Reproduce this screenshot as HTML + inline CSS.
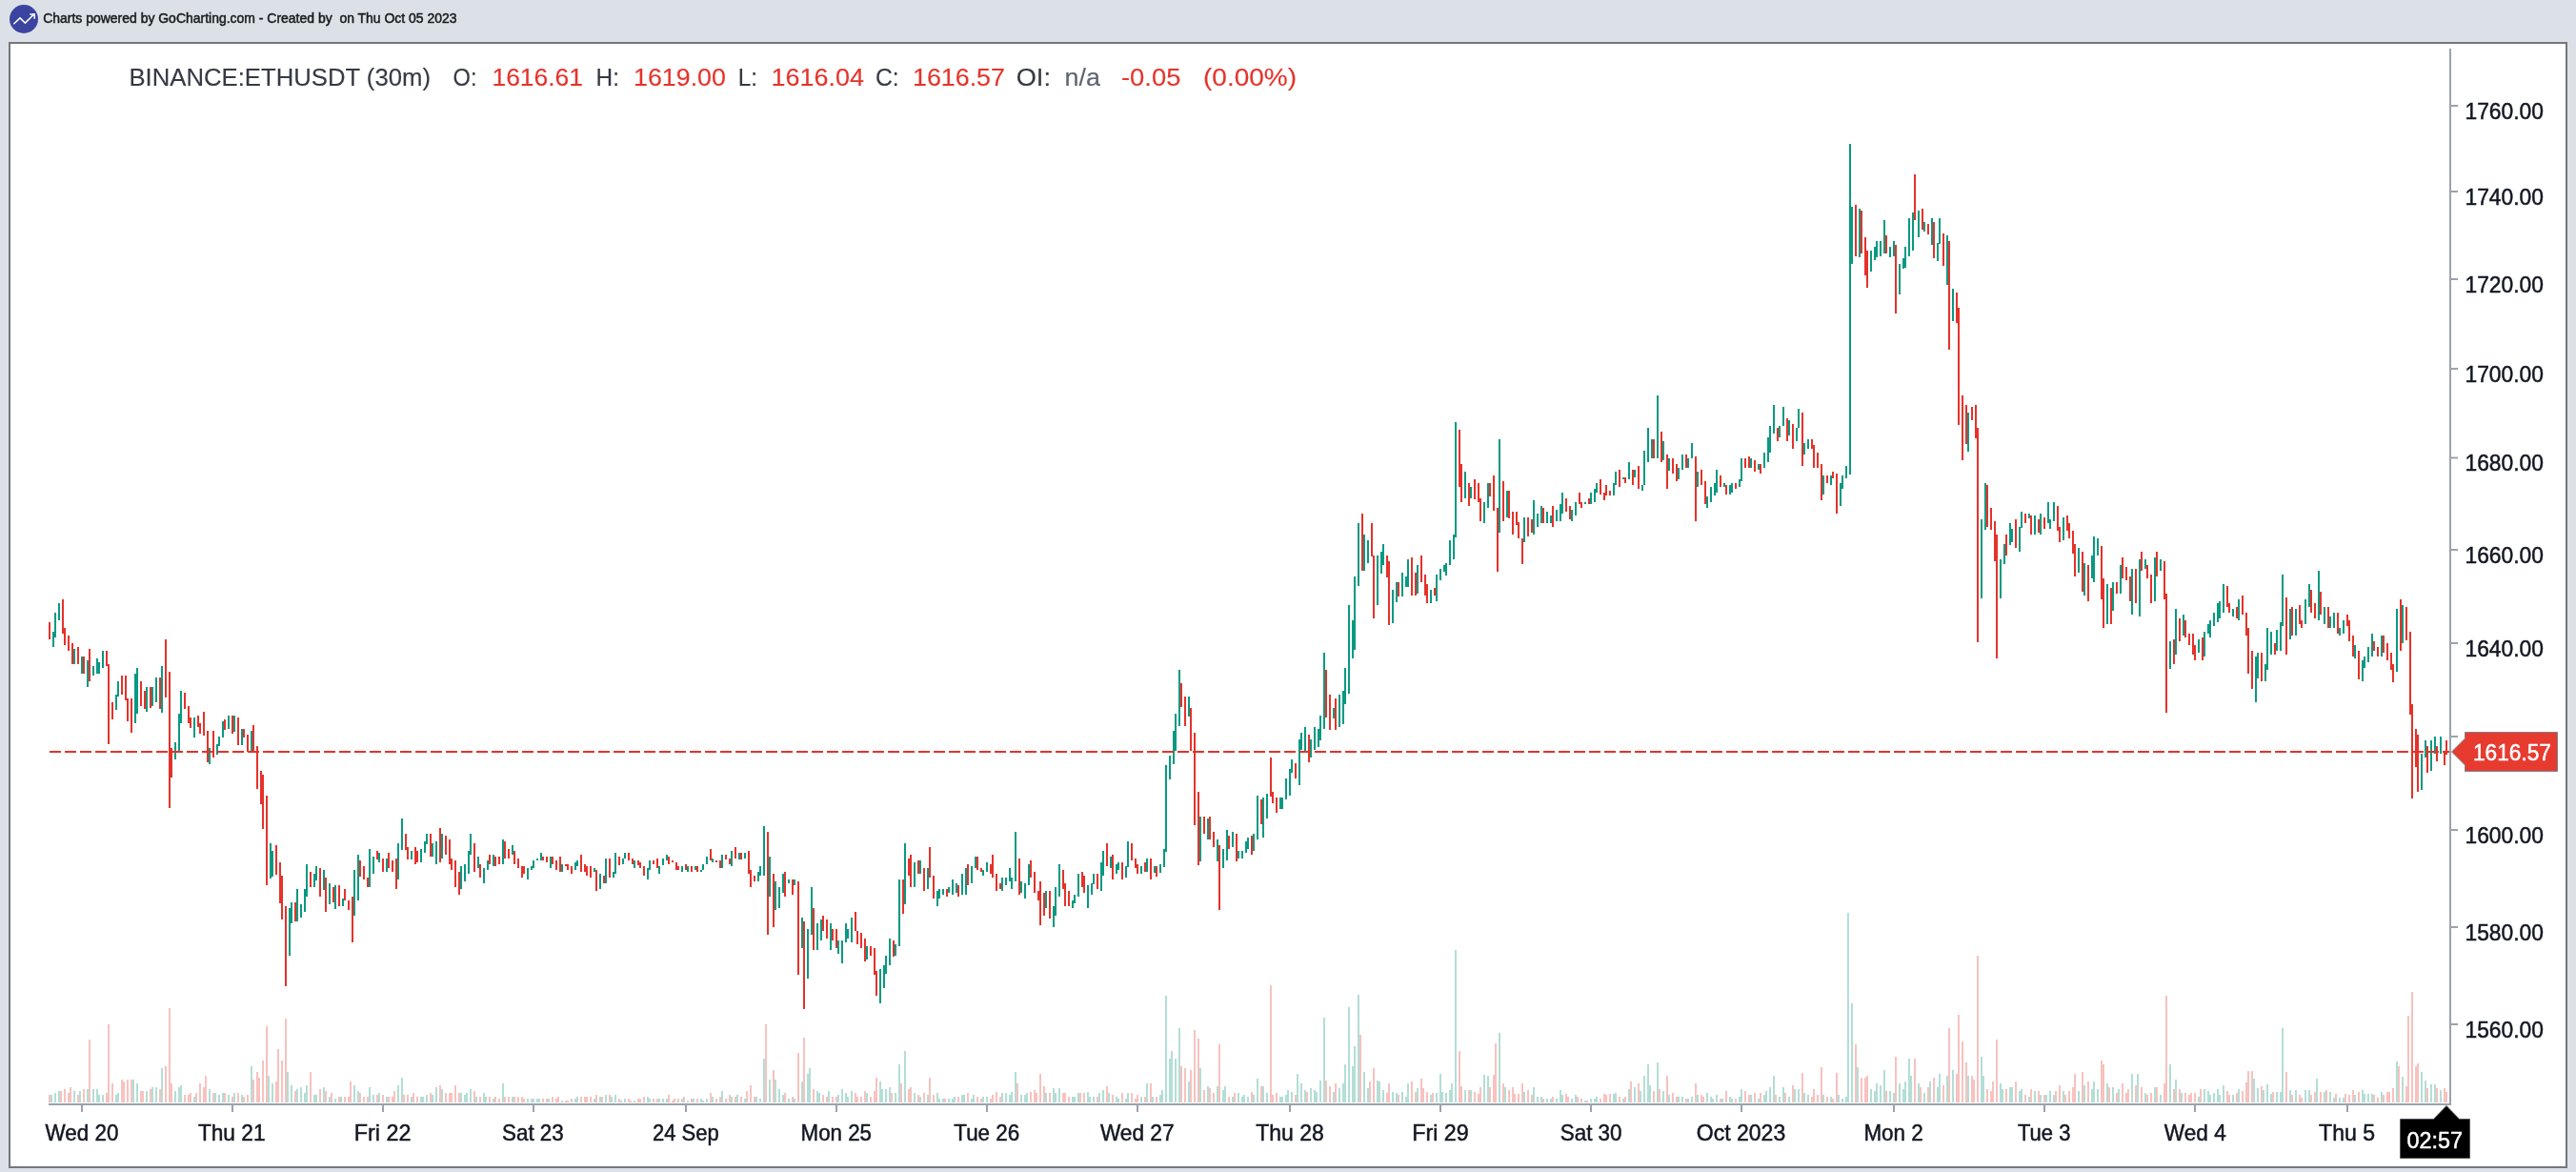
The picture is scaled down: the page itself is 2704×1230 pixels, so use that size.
<!DOCTYPE html>
<html><head><meta charset="utf-8"><title>GoCharting ETHUSDT</title>
<style>
html,body{margin:0;padding:0;}
body{width:2704px;height:1230px;background:#dce1e8;position:relative;overflow:hidden;font-family:"Liberation Sans",sans-serif;}
#logo{position:absolute;left:10px;top:5px;width:30px;height:30px;border-radius:50%;background:#3b45a0;}
#hdr{position:absolute;left:45px;top:8px;font-size:13.6px;color:#1a1a1a;white-space:pre;line-height:18px;}
#panel{position:absolute;left:9px;top:44px;width:2682px;height:1178px;border:2px solid #72777f;background:#fff;}
#legend{position:absolute;left:135px;top:69px;font-size:25px;color:#2f333d;white-space:pre;line-height:28px;}
#legend .v{color:#e5281f;}
#legend .g{color:#5c6370;}
.ax{font-family:"Liberation Sans",sans-serif;font-size:23.5px;fill:#131722;}
</style></head><body>
<div id="logo"><svg width="30" height="30" viewBox="0 0 30 30"><path d="M4.3 20.3L11 13.9L16.4 19.1L25.6 10" stroke="#fff" stroke-width="1.5" fill="none"/><path d="M21.3 9.9H26.2V14.8" stroke="#fff" stroke-width="1.5" fill="none"/><path d="M23.5 9.5H26.6V12.6Z" fill="#fff"/></svg></div>
<div id="panel"></div>
<svg width="2704" height="1230" viewBox="0 0 2704 1230" style="position:absolute;left:0;top:0;will-change:transform" font-family="Liberation Sans, sans-serif"><path d="M54 1149V1157M58 1147V1157M62 1145V1157M78 1145V1157M84 1145V1157M92 1143V1157M98 1143V1157M102 1143V1157M104 1149V1157M108 1149V1157M122 1149V1157M124 1147V1157M140 1133V1157M144 1137V1157M154 1145V1157M160 1141V1157M164 1141V1157M170 1121V1157M184 1145V1157M188 1141V1157M190 1139V1157M204 1151V1157M220 1143V1157M226 1147V1157M230 1149V1157M234 1147V1157M240 1149V1157M246 1147V1157M254 1149V1157M264 1119V1157M282 1129V1157M286 1137V1157M302 1125V1157M306 1139V1157M312 1143V1157M316 1141V1157M320 1147V1157M322 1139V1157M330 1149V1157M332 1149V1157M340 1141V1157M346 1151V1157M352 1153V1157M358 1151V1157M372 1139V1157M376 1145V1157M388 1141V1157M392 1149V1157M398 1147V1157M406 1151V1157M418 1139V1157M422 1131V1157M432 1151V1157M442 1151V1157M444 1151V1157M448 1149V1157M454 1149V1157M458 1141V1157M464 1143V1157M484 1147V1157M488 1149V1157M490 1147V1157M494 1143V1157M500 1151V1157M508 1147V1157M510 1151V1157M518 1153V1157M528 1137V1157M538 1151V1157M554 1153V1157M558 1153V1157M560 1153V1157M564 1153V1157M566 1153V1157M576 1153V1157M590 1155V1157M604 1153V1157M606 1151V1157M624 1153V1157M630 1151V1157M636 1149V1157M642 1151V1157M646 1149V1157M652 1155V1157M656 1153V1157M666 1155V1157M680 1151V1157M682 1153V1157M692 1153V1157M696 1153V1157M700 1153V1157M716 1153V1157M722 1155V1157M728 1153V1157M736 1153V1157M738 1155V1157M742 1153V1157M748 1151V1157M758 1145V1157M768 1151V1157M774 1149V1157M782 1153V1157M794 1151V1157M798 1153V1157M802 1111V1157M808 1133V1157M814 1133V1157M818 1143V1157M822 1149V1157M828 1153V1157M834 1153V1157M842 1135V1157M848 1127V1157M850 1121V1157M858 1145V1157M860 1147V1157M870 1145V1157M880 1149V1157M884 1143V1157M888 1147V1157M890 1151V1157M894 1145V1157M910 1147V1157M924 1135V1157M926 1143V1157M930 1143V1157M934 1141V1157M940 1147V1157M944 1117V1157M950 1103V1157M960 1147V1157M966 1151V1157M974 1149V1157M984 1147V1157M986 1153V1157M990 1153V1157M996 1153V1157M1000 1153V1157M1002 1151V1157M1010 1149V1157M1012 1149V1157M1020 1153V1157M1022 1149V1157M1032 1151V1157M1036 1151V1157M1052 1147V1157M1056 1147V1157M1060 1149V1157M1062 1146V1157M1066 1125V1157M1072 1149V1157M1076 1149V1157M1078 1147V1157M1098 1147V1157M1106 1142V1157M1108 1147V1157M1112 1142V1157M1126 1151V1157M1128 1151V1157M1132 1147V1157M1142 1146V1157M1144 1151V1157M1148 1151V1157M1154 1147V1157M1158 1144V1157M1164 1147V1157M1172 1151V1157M1174 1153V1157M1182 1153V1157M1184 1147V1157M1198 1151V1157M1204 1137V1157M1210 1151V1157M1218 1149V1157M1220 1144V1157M1224 1045V1157M1228 1111V1157M1230 1103V1157M1234 1111V1157M1238 1079V1157M1248 1135V1157M1260 1121V1157M1268 1140V1157M1278 1140V1157M1284 1144V1157M1286 1140V1157M1294 1151V1157M1300 1147V1157M1304 1151V1157M1306 1149V1157M1310 1151V1157M1316 1149V1157M1320 1132V1157M1326 1140V1157M1330 1147V1157M1344 1151V1157M1346 1151V1157M1350 1149V1157M1352 1144V1157M1356 1146V1157M1362 1127V1157M1366 1137V1157M1370 1144V1157M1376 1142V1157M1380 1144V1157M1382 1146V1157M1386 1134V1157M1390 1068V1157M1400 1146V1157M1406 1142V1157M1410 1137V1157M1412 1117V1157M1416 1057V1157M1420 1119V1157M1422 1098V1157M1426 1044V1157M1432 1125V1157M1436 1142V1157M1446 1134V1157M1448 1135V1157M1452 1144V1157M1462 1146V1157M1466 1147V1157M1472 1146V1157M1476 1151V1157M1478 1137V1157M1488 1142V1157M1502 1149V1157M1508 1147V1157M1512 1127V1157M1514 1146V1157M1518 1147V1157M1522 1144V1157M1524 1137V1157M1528 997V1157M1538 1144V1157M1544 1144V1157M1558 1128V1157M1562 1129V1157M1574 1084V1157M1580 1141V1157M1600 1146V1157M1610 1141V1157M1614 1151V1157M1618 1151V1157M1624 1153V1157M1628 1153V1157M1634 1153V1157M1638 1144V1157M1640 1149V1157M1650 1153V1157M1654 1149V1157M1664 1155V1157M1670 1153V1157M1674 1153V1157M1676 1151V1157M1694 1148V1157M1696 1147V1157M1704 1153V1157M1710 1143V1157M1716 1141V1157M1722 1145V1157M1726 1129V1157M1730 1117V1157M1732 1139V1157M1740 1115V1157M1746 1145V1157M1752 1149V1157M1762 1151V1157M1766 1151V1157M1772 1153V1157M1776 1151V1157M1782 1149V1157M1792 1147V1157M1796 1151V1157M1798 1153V1157M1802 1149V1157M1808 1153V1157M1816 1151V1157M1818 1153V1157M1826 1151V1157M1828 1143V1157M1838 1149V1157M1846 1153V1157M1852 1149V1157M1854 1145V1157M1858 1141V1157M1862 1129V1157M1868 1151V1157M1872 1141V1157M1878 1151V1157M1884 1143V1157M1888 1143V1157M1894 1147V1157M1898 1149V1157M1914 1149V1157M1922 1151V1157M1930 1149V1157M1934 1153V1157M1938 1151V1157M1940 958V1157M1944 1053V1157M1950 1120V1157M1964 1143V1157M1968 1145V1157M1970 1137V1157M1974 1139V1157M1978 1123V1157M1984 1145V1157M1988 1147V1157M1994 1137V1157M1998 1143V1157M2000 1135V1157M2004 1111V1157M2006 1129V1157M2014 1137V1157M2020 1147V1157M2026 1135V1157M2034 1141V1157M2036 1127V1157M2044 1129V1157M2050 1123V1157M2066 1129V1157M2080 1109V1157M2082 1129V1157M2100 1137V1157M2102 1143V1157M2110 1141V1157M2112 1141V1157M2120 1145V1157M2122 1143V1157M2130 1151V1157M2136 1145V1157M2142 1149V1157M2148 1149V1157M2152 1145V1157M2156 1149V1157M2166 1145V1157M2182 1145V1157M2188 1139V1157M2196 1143V1157M2198 1135V1157M2202 1143V1157M2212 1137V1157M2218 1141V1157M2224 1143V1157M2238 1127V1157M2244 1127V1157M2252 1147V1157M2262 1141V1157M2268 1149V1157M2278 1117V1157M2284 1133V1157M2290 1147V1157M2308 1151V1157M2314 1143V1157M2318 1145V1157M2320 1149V1157M2324 1147V1157M2328 1143V1157M2330 1149V1157M2334 1139V1157M2344 1149V1157M2350 1143V1157M2366 1132V1157M2370 1142V1157M2376 1144V1157M2380 1138V1157M2384 1148V1157M2390 1146V1157M2394 1146V1157M2396 1079V1157M2404 1144V1157M2410 1144V1157M2420 1144V1157M2424 1144V1157M2432 1132V1157M2440 1146V1157M2446 1146V1157M2450 1152V1157M2456 1152V1157M2460 1152V1157M2472 1149V1157M2480 1144V1157M2482 1148V1157M2486 1148V1157M2490 1148V1157M2500 1146V1157M2516 1114V1157M2522 1130V1157M2542 1125V1157M2546 1134V1157M2552 1138V1157M2556 1138V1157M2562 1144V1157" stroke="#b3ded6" stroke-width="2" fill="none"/><path d="M52 1149V1157M64 1145V1157M68 1143V1157M72 1147V1157M74 1141V1157M82 1149V1157M88 1143V1157M94 1091V1157M112 1147V1157M114 1075V1157M118 1137V1157M128 1133V1157M130 1135V1157M134 1133V1157M138 1133V1157M148 1145V1157M150 1145V1157M158 1143V1157M168 1143V1157M174 1119V1157M178 1058V1157M180 1137V1157M194 1149V1157M198 1149V1157M200 1147V1157M206 1147V1157M210 1137V1157M214 1141V1157M216 1129V1157M224 1147V1157M236 1147V1157M244 1151V1157M250 1147V1157M256 1151V1157M260 1149V1157M266 1133V1157M270 1125V1157M272 1131V1157M276 1113V1157M280 1077V1157M290 1135V1157M292 1101V1157M296 1113V1157M300 1069V1157M310 1145V1157M326 1125V1157M336 1143V1157M342 1145V1157M348 1147V1157M356 1151V1157M362 1151V1157M366 1151V1157M368 1135V1157M378 1147V1157M382 1151V1157M386 1151V1157M396 1149V1157M402 1149V1157M408 1151V1157M412 1151V1157M414 1145V1157M424 1149V1157M428 1149V1157M434 1147V1157M438 1151V1157M452 1147V1157M462 1139V1157M468 1147V1157M472 1147V1157M474 1147V1157M478 1139V1157M482 1147V1157M498 1145V1157M504 1151V1157M514 1151V1157M520 1151V1157M524 1153V1157M530 1151V1157M534 1151V1157M540 1151V1157M544 1151V1157M548 1151V1157M550 1153V1157M570 1153V1157M574 1153V1157M580 1151V1157M584 1153V1157M586 1151V1157M594 1155V1157M596 1155V1157M600 1153V1157M610 1151V1157M614 1151V1157M616 1151V1157M620 1151V1157M626 1149V1157M632 1151V1157M640 1149V1157M650 1153V1157M660 1153V1157M662 1155V1157M670 1153V1157M672 1153V1157M676 1151V1157M686 1153V1157M690 1153V1157M702 1149V1157M706 1155V1157M708 1153V1157M712 1153V1157M718 1151V1157M726 1153V1157M732 1153V1157M746 1147V1157M752 1153V1157M756 1151V1157M762 1153V1157M766 1149V1157M772 1151V1157M778 1151V1157M784 1145V1157M788 1139V1157M792 1151V1157M804 1075V1157M812 1123V1157M824 1147V1157M832 1151V1157M838 1105V1157M844 1089V1157M854 1143V1157M864 1149V1157M868 1151V1157M874 1151V1157M878 1151V1157M898 1147V1157M900 1151V1157M904 1151V1157M908 1145V1157M914 1151V1157M918 1145V1157M920 1131V1157M936 1147V1157M946 1137V1157M954 1143V1157M956 1141V1157M964 1149V1157M970 1147V1157M976 1131V1157M980 1149V1157M992 1153V1157M1006 1151V1157M1016 1147V1157M1026 1151V1157M1030 1153V1157M1040 1153V1157M1042 1149V1157M1046 1146V1157M1050 1151V1157M1068 1137V1157M1082 1146V1157M1086 1144V1157M1088 1147V1157M1092 1127V1157M1096 1140V1157M1102 1147V1157M1116 1147V1157M1118 1147V1157M1122 1151V1157M1134 1147V1157M1138 1147V1157M1152 1151V1157M1162 1140V1157M1168 1149V1157M1178 1147V1157M1188 1147V1157M1192 1153V1157M1194 1149V1157M1202 1151V1157M1208 1137V1157M1214 1151V1157M1240 1119V1157M1244 1121V1157M1250 1123V1157M1254 1081V1157M1258 1090V1157M1264 1144V1157M1270 1142V1157M1274 1147V1157M1280 1096V1157M1290 1151V1157M1296 1147V1157M1314 1146V1157M1324 1140V1157M1334 1034V1157M1336 1149V1157M1340 1147V1157M1360 1149V1157M1372 1146V1157M1392 1134V1157M1396 1140V1157M1402 1137V1157M1428 1086V1157M1438 1135V1157M1442 1121V1157M1456 1147V1157M1458 1137V1157M1468 1149V1157M1482 1135V1157M1486 1146V1157M1492 1132V1157M1494 1142V1157M1498 1146V1157M1504 1147V1157M1532 1103V1157M1534 1140V1157M1542 1144V1157M1548 1146V1157M1552 1148V1157M1554 1141V1157M1564 1141V1157M1568 1128V1157M1570 1095V1157M1578 1137V1157M1584 1144V1157M1588 1141V1157M1590 1148V1157M1594 1148V1157M1598 1137V1157M1604 1144V1157M1608 1149V1157M1620 1153V1157M1630 1151V1157M1644 1148V1157M1646 1151V1157M1656 1151V1157M1660 1153V1157M1666 1155V1157M1680 1153V1157M1684 1148V1157M1686 1149V1157M1690 1148V1157M1700 1151V1157M1706 1151V1157M1712 1135V1157M1720 1137V1157M1736 1145V1157M1742 1143V1157M1750 1129V1157M1756 1147V1157M1760 1151V1157M1770 1153V1157M1780 1137V1157M1786 1149V1157M1788 1151V1157M1806 1153V1157M1812 1145V1157M1822 1153V1157M1832 1145V1157M1836 1149V1157M1842 1147V1157M1848 1147V1157M1864 1149V1157M1874 1147V1157M1882 1139V1157M1892 1126V1157M1902 1151V1157M1904 1143V1157M1908 1149V1157M1912 1120V1157M1918 1151V1157M1924 1153V1157M1928 1126V1157M1948 1096V1157M1954 1131V1157M1958 1131V1157M1960 1129V1157M1980 1145V1157M1990 1109V1157M2010 1111V1157M2016 1141V1157M2024 1141V1157M2030 1131V1157M2040 1139V1157M2046 1079V1157M2054 1127V1157M2056 1065V1157M2060 1093V1157M2064 1115V1157M2070 1129V1157M2072 1133V1157M2076 1003V1157M2086 1143V1157M2090 1145V1157M2092 1135V1157M2096 1091V1157M2106 1143V1157M2116 1135V1157M2126 1149V1157M2132 1143V1157M2140 1145V1157M2146 1149V1157M2158 1145V1157M2162 1139V1157M2168 1149V1157M2172 1145V1157M2176 1141V1157M2178 1127V1157M2186 1125V1157M2192 1135V1157M2206 1113V1157M2208 1117V1157M2214 1141V1157M2222 1147V1157M2228 1137V1157M2232 1147V1157M2234 1143V1157M2242 1139V1157M2248 1141V1157M2254 1149V1157M2258 1147V1157M2264 1141V1157M2272 1137V1157M2274 1045V1157M2282 1143V1157M2288 1143V1157M2294 1147V1157M2298 1149V1157M2300 1147V1157M2304 1147V1157M2310 1143V1157M2338 1145V1157M2340 1149V1157M2348 1147V1157M2354 1145V1157M2358 1136V1157M2360 1124V1157M2364 1124V1157M2374 1140V1157M2386 1146V1157M2400 1125V1157M2406 1149V1157M2414 1149V1157M2416 1152V1157M2426 1149V1157M2430 1146V1157M2436 1146V1157M2442 1144V1157M2452 1148V1157M2462 1148V1157M2466 1149V1157M2470 1144V1157M2476 1146V1157M2492 1149V1157M2496 1152V1157M2502 1149V1157M2506 1146V1157M2508 1146V1157M2512 1142V1157M2518 1119V1157M2526 1140V1157M2528 1066V1157M2532 1041V1157M2536 1119V1157M2538 1116V1157M2548 1142V1157M2558 1142V1157M2566 1142V1157M2568 1146V1157" stroke="#f7c2bf" stroke-width="2" fill="none"/><path d="M56 663V679M58 643V669M62 633V651M78 681V697M86 689V707M92 693V721M98 699V709M102 691V707M104 695V707M108 683V701M122 729V745M124 715V731M142 707V759M144 701V749M154 721V747M160 721V741M164 711V737M170 699V748M184 779V797M188 749V788M190 725V759M204 753V774M220 785V802M228 781V792M230 773V783M234 757V774M240 751V765M246 751V768M254 765V782M264 767V789M284 885V922M286 893V920M304 953V1003M306 947V969M312 933V967M316 949V963M320 933V957M322 907V941M330 917V931M332 909V924M340 913V934M346 927V949M352 929V954M360 943V951M372 913V961M376 897V945M388 891V931M392 899V917M398 895V905M406 901V915M418 885V923M422 859V892M432 893V902M442 891V905M446 883V895M448 875V886M454 885V899M458 883V907M464 875V901M484 909V933M488 907V925M492 893V917M494 875V897M502 899V911M508 911V927M512 903V913M518 897V909M528 881V907M538 887V897M554 911V923M558 909V913M560 903V911M564 901V903M568 895V903M578 899V911M590 907V915M604 905V913M606 903V909M624 911V915M630 917V933M636 901V927M644 915V921M646 895V917M654 901V907M656 895V901M666 903V911M680 911V923M682 903V913M692 909V917M696 901V908M700 897V903M716 909V915M722 909V915M730 909V913M736 913V915M738 907V913M742 899V907M748 901V905M758 897V911M768 893V909M776 895V902M782 895V901M796 915V925M798 909V919M802 867V919M808 899V941M814 925V955M818 931V953M822 917V937M828 923V927M834 923V929M842 963V995M848 975V1027M852 931V981M858 969V997M862 965V987M872 969V997M880 987V1001M884 987V1011M888 969V989M890 975V985M894 963V989M910 993V1007M924 1017V1053M928 1013V1037M930 1003V1022M934 985V1013M940 991V1003M944 923V993M950 885V949M960 905V931M966 903V917M974 911V933M984 935V951M986 933V943M990 933V939M996 931V937M1000 923V939M1004 927V937M1010 917V939M1014 911V939M1020 909V927M1024 899V911M1032 913V919M1036 905V915M1052 921V935M1056 921V929M1060 911V925M1062 921V933M1066 873V925M1072 925V937M1076 927V943M1080 907V929M1098 935V953M1106 951V973M1108 931V961M1112 907V941M1126 945V953M1128 939V948M1132 917V941M1142 929V953M1146 927V939M1148 917V928M1156 905V935M1158 893V919M1166 899V911M1172 907V917M1174 905V913M1182 909V921M1184 883V910M1198 909V917M1204 901V915M1212 909V916M1218 907V916M1222 891V910M1224 803V894M1228 793V818M1232 767V802M1234 749V788M1238 703V762M1248 731V752M1260 857V904M1268 859V881M1278 881V904M1284 891V911M1288 871V903M1294 873V889M1300 893V901M1304 893V901M1308 883V895M1310 879V891M1316 875V893M1320 835V881M1326 837V879M1330 833V859M1344 837V849M1346 837V849M1350 817V839M1354 807V835M1356 797V811M1364 776V824M1366 769V787M1370 763V788M1376 776V795M1380 763V787M1384 765V784M1386 751V777M1390 685V765M1400 743V754M1406 729V763M1410 725V760M1412 701V739M1416 635V728M1420 651V691M1422 605V682M1426 549V615M1432 561V599M1436 567V591M1446 583V635M1450 579V602M1452 571V593M1462 619V654M1466 611V632M1472 601V626M1476 605V616M1478 587V616M1488 593V623M1502 619V633M1508 603V631M1512 597V609M1516 593V600M1518 591V604M1522 567V593M1526 561V587M1528 443V564M1538 495V523M1544 511V523M1558 527V549M1562 507V533M1574 461V559M1582 515V543M1600 543V569M1610 525V561M1614 539V553M1618 531V549M1624 537V549M1628 541V549M1634 535V547M1638 529V547M1640 517V539M1650 535V547M1654 527V541M1664 527V529M1670 517V529M1674 513V527M1676 507V517M1694 507V520M1696 495V509M1704 501V503M1710 485V503M1716 493V501M1724 509V515M1726 473V509M1730 449V485M1734 461V481M1740 415V481M1746 463V483M1752 481V494M1762 491V503M1766 477V493M1772 481V491M1776 465V481M1782 495V511M1792 521V533M1796 511V527M1800 507V520M1802 493V517M1810 507V511M1816 509V519M1818 507V517M1826 503V511M1828 481V505M1838 481V491M1846 487V493M1852 475V491M1856 459V485M1858 447V475M1862 425V455M1868 447V459M1872 427V447M1878 441V457M1886 449V463M1888 429V449M1894 465V477M1898 461V471M1914 499V519M1922 499V509M1932 507V531M1934 499V513M1938 489V502M1942 151V498M1944 217V277M1952 219V270M1964 263V285M1968 259V273M1970 253V270M1974 253V269M1978 231V266M1984 259V270M1988 253V269M1994 277V309M1998 271V282M2000 259V281M2004 229V269M2008 223V263M2014 221V249M2020 233V243M2028 229V257M2034 255V274M2036 229V256M2044 247V299M2050 303V337M2066 433V474M2080 545V628M2084 507V556M2100 587V628M2104 571V592M2110 549V572M2112 555V569M2120 553V579M2122 537V554M2130 539V544M2136 541V561M2142 539V561M2150 527V549M2152 545V555M2156 527V547M2166 543V567M2182 575V601M2188 591V625M2196 583V607M2198 563V611M2202 565V583M2212 613V655M2218 611V641M2226 593V623M2238 597V645M2246 587V647M2252 587V597M2262 585V631M2268 587V599M2278 673V702M2284 639V687M2292 645V667M2308 671V685M2314 663V689M2318 655V665M2320 651V669M2324 643V657M2328 633V653M2330 631V649M2334 613V643M2344 639V647M2350 629V651M2368 689V737M2370 685V712M2378 697V715M2380 659V703M2384 663V687M2390 661V683M2394 653V683M2396 603V657M2404 639V671M2410 639V667M2420 629V655M2424 613V637M2434 599V651M2440 637V655M2446 647V659M2450 643V659M2456 659V667M2460 651V665M2472 677V691M2480 693V715M2482 689V701M2486 679V695M2490 665V689M2500 667V689M2516 639V705M2522 635V675M2542 791V829M2546 777V795M2552 777V809M2556 773V791M2562 773V791" stroke="#089981" stroke-width="2" fill="none"/><path d="M52 653V671M66 629V665M68 659V677M72 667V683M76 675V697M82 679V697M88 689V707M94 681V715M112 683V699M114 697V781M118 737V755M128 709V729M132 709V735M134 733V757M138 733V769M148 715V741M152 725V744M158 721V743M168 711V744M174 671V732M178 705V848M180 785V816M194 727V744M198 741V759M200 753V764M208 751V763M210 759V770M214 747V772M218 767V800M224 767V795M236 755V766M244 751V770M250 753V782M256 765V774M260 771V789M266 761V790M270 783V828M274 809V844M276 813V870M280 835V929M290 887V918M294 905V948M296 919V965M300 951V1035M310 947V967M326 915V931M336 911V941M342 921V957M350 931V947M356 929V951M362 933V945M366 945V955M370 941V989M378 903V920M382 909V923M386 921V931M396 893V902M402 901V915M408 895V911M412 903V915M416 901V933M426 875V892M428 889V902M436 889V907M438 893V905M452 875V899M462 869V905M468 877V897M472 881V907M474 901V913M478 903V931M482 915V939M498 885V915M504 907V921M514 897V907M520 899V909M524 899V907M530 883V901M534 891V901M540 893V907M544 901V911M548 909V921M550 909V917M570 899V903M574 899V905M580 899V907M584 903V913M588 899V915M594 907V909M596 907V913M600 909V917M610 897V915M614 907V915M616 909V919M620 909V921M626 913V935M634 919V927M640 901V921M650 899V908M660 895V903M664 901V907M670 903V908M672 905V911M676 909V919M686 903V907M690 901V911M702 899V907M706 903V905M710 905V913M712 909V913M720 907V913M726 909V915M732 909V915M746 891V903M752 903V905M756 903V911M762 897V902M766 901V907M772 889V901M778 895V902M786 893V917M788 913V931M792 919V925M806 873V981M812 917V973M824 915V941M832 923V939M838 925V1023M844 967V1059M854 953V997M864 961V977M868 965V985M874 975V987M878 975V995M898 957V977M900 977V991M904 979V995M908 985V1009M914 993V1003M918 995V1023M920 1019V1045M938 987V1004M948 923V959M954 901V919M956 897V931M964 903V917M970 911V935M976 889V921M980 919V943M994 933V941M1006 929V941M1016 907V929M1026 899V913M1030 911V915M1040 907V917M1042 897V921M1046 917V935M1050 927V933M1070 901V939M1082 903V921M1086 915V937M1090 935V945M1092 925V971M1096 937V961M1102 935V964M1116 913V933M1118 927V951M1122 935V951M1136 915V931M1138 919V937M1152 917V933M1162 885V909M1168 897V923M1178 905V923M1188 885V903M1192 901V911M1194 907V917M1202 905V915M1208 901V923M1214 909V920M1240 717V742M1244 731V762M1250 743V788M1254 769V866M1258 831V908M1264 857V875M1270 857V881M1274 873V889M1280 887V955M1290 877V891M1298 875V904M1314 877V897M1324 839V865M1334 795V836M1336 831V843M1340 837V853M1360 801V817M1374 771V800M1392 703V753M1396 729V766M1402 733V766M1430 539V599M1440 549V584M1442 583V649M1456 583V606M1458 589V656M1468 611V626M1482 585V625M1486 601V625M1492 583V611M1496 603V625M1498 613V633M1506 617V625M1532 451V511M1534 487V527M1542 507V531M1548 503V524M1552 507V527M1554 523V547M1564 507V521M1568 499V536M1572 533V600M1578 505V547M1584 515V544M1588 537V561M1592 537V551M1594 548V565M1598 565V592M1604 543V563M1608 545V559M1620 533V549M1630 531V553M1644 523V537M1648 531V545M1658 517V529M1660 527V533M1668 523V529M1680 503V519M1684 517V525M1686 509V520M1690 515V520M1700 493V511M1706 501V507M1714 493V509M1720 489V513M1736 461V481M1744 453V485M1750 477V513M1756 481V497M1760 487V505M1770 477V491M1780 479V547M1786 493V509M1790 505V529M1806 499V511M1812 509V519M1822 507V513M1832 481V491M1836 479V491M1842 483V495M1848 487V497M1866 449V463M1876 439V463M1882 445V471M1892 433V489M1902 461V471M1904 467V491M1908 475V491M1912 487V525M1918 499V507M1924 495V502M1928 497V539M1948 215V269M1954 221V266M1958 249V289M1960 263V302M1980 247V266M1990 257V329M2010 183V231M2018 219V241M2024 235V246M2030 233V271M2040 245V279M2046 253V367M2054 307V339M2056 323V446M2060 415V483M2064 425V466M2070 427V441M2074 425V460M2076 449V674M2086 509V553M2090 533V556M2094 547V589M2096 561V691M2106 561V583M2116 545V575M2126 539V549M2132 541V561M2140 545V559M2146 543V555M2160 531V557M2162 553V569M2170 541V557M2172 549V565M2176 557V581M2178 571V605M2186 579V621M2192 593V631M2206 573V629M2208 607V659M2216 617V655M2222 611V623M2228 585V607M2232 595V609M2236 605V631M2242 597V633M2248 579V599M2254 593V607M2258 603V633M2264 579V605M2272 589V629M2274 623V748M2282 671V697M2288 649V673M2294 651V669M2298 665V677M2302 665V687M2304 677V693M2312 669V693M2338 615V637M2340 633V643M2348 637V649M2354 625V645M2358 643V667M2360 659V707M2364 683V723M2374 685V715M2388 675V687M2400 627V687M2406 637V667M2414 635V655M2416 651V659M2426 619V643M2430 633V649M2436 621V645M2444 637V659M2454 643V665M2464 645V657M2466 651V673M2470 667V689M2476 683V713M2492 673V683M2496 679V689M2502 667V685M2506 675V693M2510 685V703M2512 697V716M2520 629V683M2526 637V672M2530 663V750M2532 739V838M2536 765V805M2538 771V831M2548 783V811M2558 783V799M2566 789V803M2568 777V792" stroke="#e5322a" stroke-width="2" fill="none"/><path d="M52 789H2571" stroke="#e5322a" stroke-width="2" stroke-dasharray="12 4" fill="none"/><path d="M2572 51V1160M51 1159H2573" stroke="#9aa3ae" stroke-width="2" fill="none"/><path d="M2573 111H2580M2573 201H2580M2573 293H2580M2573 387H2580M2573 480.5H2580M2573 577H2580M2573 675H2580M2573 773H2580M2573 871H2580M2573 973H2580M2573 1075H2580M86 1160V1167M244 1160V1167M402 1160V1167M560 1160V1167M720 1160V1167M878 1160V1167M1036 1160V1167M1194 1160V1167M1354 1160V1167M1512 1160V1167M1670 1160V1167M1828 1160V1167M1988 1160V1167M2146 1160V1167M2304 1160V1167M2464 1160V1167" stroke="#9aa3ae" stroke-width="2" fill="none"/><text x="2587.50" y="125" font-size="24" fill="#131722" stroke="#131722" stroke-width="0.5" textLength="82.46" lengthAdjust="spacingAndGlyphs" xml:space="preserve">1760.00</text><text x="2587.50" y="215" font-size="24" fill="#131722" stroke="#131722" stroke-width="0.5" textLength="82.46" lengthAdjust="spacingAndGlyphs" xml:space="preserve">1740.00</text><text x="2587.50" y="307" font-size="24" fill="#131722" stroke="#131722" stroke-width="0.5" textLength="82.46" lengthAdjust="spacingAndGlyphs" xml:space="preserve">1720.00</text><text x="2587.50" y="401" font-size="24" fill="#131722" stroke="#131722" stroke-width="0.5" textLength="82.46" lengthAdjust="spacingAndGlyphs" xml:space="preserve">1700.00</text><text x="2587.50" y="494" font-size="24" fill="#131722" stroke="#131722" stroke-width="0.5" textLength="82.46" lengthAdjust="spacingAndGlyphs" xml:space="preserve">1680.00</text><text x="2587.50" y="591" font-size="24" fill="#131722" stroke="#131722" stroke-width="0.5" textLength="82.46" lengthAdjust="spacingAndGlyphs" xml:space="preserve">1660.00</text><text x="2587.50" y="689" font-size="24" fill="#131722" stroke="#131722" stroke-width="0.5" textLength="82.46" lengthAdjust="spacingAndGlyphs" xml:space="preserve">1640.00</text><text x="2587.50" y="885" font-size="24" fill="#131722" stroke="#131722" stroke-width="0.5" textLength="82.46" lengthAdjust="spacingAndGlyphs" xml:space="preserve">1600.00</text><text x="2587.50" y="987" font-size="24" fill="#131722" stroke="#131722" stroke-width="0.5" textLength="82.46" lengthAdjust="spacingAndGlyphs" xml:space="preserve">1580.00</text><text x="2587.50" y="1089" font-size="24" fill="#131722" stroke="#131722" stroke-width="0.5" textLength="82.46" lengthAdjust="spacingAndGlyphs" xml:space="preserve">1560.00</text><text x="47.50" y="1197" font-size="24" fill="#131722" stroke="#131722" stroke-width="0.5" textLength="76.98" lengthAdjust="spacingAndGlyphs" xml:space="preserve">Wed 20</text><text x="207.90" y="1197" font-size="24" fill="#131722" stroke="#131722" stroke-width="0.5" textLength="70.62" lengthAdjust="spacingAndGlyphs" xml:space="preserve">Thu 21</text><text x="371.70" y="1197" font-size="24" fill="#131722" stroke="#131722" stroke-width="0.5" textLength="59.75" lengthAdjust="spacingAndGlyphs" xml:space="preserve">Fri 22</text><text x="527.00" y="1197" font-size="24" fill="#131722" stroke="#131722" stroke-width="0.5" textLength="64.79" lengthAdjust="spacingAndGlyphs" xml:space="preserve">Sat 23</text><text x="684.90" y="1197" font-size="24" fill="#131722" stroke="#131722" stroke-width="0.5" textLength="69.87" lengthAdjust="spacingAndGlyphs" xml:space="preserve">24 Sep</text><text x="840.60" y="1197" font-size="24" fill="#131722" stroke="#131722" stroke-width="0.5" textLength="74.36" lengthAdjust="spacingAndGlyphs" xml:space="preserve">Mon 25</text><text x="1001.30" y="1197" font-size="24" fill="#131722" stroke="#131722" stroke-width="0.5" textLength="68.93" lengthAdjust="spacingAndGlyphs" xml:space="preserve">Tue 26</text><text x="1154.90" y="1197" font-size="24" fill="#131722" stroke="#131722" stroke-width="0.5" textLength="77.68" lengthAdjust="spacingAndGlyphs" xml:space="preserve">Wed 27</text><text x="1318.30" y="1197" font-size="24" fill="#131722" stroke="#131722" stroke-width="0.5" textLength="71.42" lengthAdjust="spacingAndGlyphs" xml:space="preserve">Thu 28</text><text x="1482.30" y="1197" font-size="24" fill="#131722" stroke="#131722" stroke-width="0.5" textLength="59.45" lengthAdjust="spacingAndGlyphs" xml:space="preserve">Fri 29</text><text x="1637.70" y="1197" font-size="24" fill="#131722" stroke="#131722" stroke-width="0.5" textLength="64.89" lengthAdjust="spacingAndGlyphs" xml:space="preserve">Sat 30</text><text x="1780.80" y="1197" font-size="24" fill="#131722" stroke="#131722" stroke-width="0.5" textLength="93.40" lengthAdjust="spacingAndGlyphs" xml:space="preserve">Oct 2023</text><text x="1956.40" y="1197" font-size="24" fill="#131722" stroke="#131722" stroke-width="0.5" textLength="62.31" lengthAdjust="spacingAndGlyphs" xml:space="preserve">Mon 2</text><text x="2117.90" y="1197" font-size="24" fill="#131722" stroke="#131722" stroke-width="0.5" textLength="55.49" lengthAdjust="spacingAndGlyphs" xml:space="preserve">Tue 3</text><text x="2271.80" y="1197" font-size="24" fill="#131722" stroke="#131722" stroke-width="0.5" textLength="64.93" lengthAdjust="spacingAndGlyphs" xml:space="preserve">Wed 4</text><text x="2434.10" y="1197" font-size="24" fill="#131722" stroke="#131722" stroke-width="0.5" textLength="58.98" lengthAdjust="spacingAndGlyphs" xml:space="preserve">Thu 5</text><path d="M2573.5 789L2587.5 775V768.5H2684.5V809.5H2587.5V803Z" fill="#e83b30" stroke="#7d8590" stroke-width="1"/><text x="2596.00" y="798" font-size="24" fill="#fff" stroke="#fff" stroke-width="0.5" textLength="81.96" lengthAdjust="spacingAndGlyphs" xml:space="preserve">1616.57</text><path d="M2568 1160.5L2581.5 1174.5H2592.5V1215.5H2519.5V1174.5H2554.5Z" fill="#000" stroke="#555" stroke-width="1"/><text x="2526.50" y="1205" font-size="24" fill="#fff" stroke="#fff" stroke-width="0.5" textLength="58.46" lengthAdjust="spacingAndGlyphs" xml:space="preserve">02:57</text><text x="45.20" y="24" font-size="14" fill="#1a1a1a" stroke="#1a1a1a" stroke-width="0.5" textLength="434.37" lengthAdjust="spacingAndGlyphs" xml:space="preserve">Charts powered by GoCharting.com - Created by  on Thu Oct 05 2023</text><text x="135.40" y="90" font-size="26" fill="#363a45" stroke="#363a45" stroke-width="0.15" textLength="316.61" lengthAdjust="spacingAndGlyphs" xml:space="preserve">BINANCE:ETHUSDT (30m)</text><text x="475.60" y="90" font-size="26" fill="#363a45" stroke="#363a45" stroke-width="0.15" textLength="24.94" lengthAdjust="spacingAndGlyphs" xml:space="preserve">O:</text><text x="516.50" y="90" font-size="26" fill="#e4342c" stroke="#e4342c" stroke-width="0.15" textLength="95.46" lengthAdjust="spacingAndGlyphs" xml:space="preserve">1616.61</text><text x="625.60" y="90" font-size="26" fill="#363a45" stroke="#363a45" stroke-width="0.15" textLength="24.40" lengthAdjust="spacingAndGlyphs" xml:space="preserve">H:</text><text x="665.00" y="90" font-size="26" fill="#e4342c" stroke="#e4342c" stroke-width="0.15" textLength="96.95" lengthAdjust="spacingAndGlyphs" xml:space="preserve">1619.00</text><text x="774.80" y="90" font-size="26" fill="#363a45" stroke="#363a45" stroke-width="0.15" textLength="20.22" lengthAdjust="spacingAndGlyphs" xml:space="preserve">L:</text><text x="809.60" y="90" font-size="26" fill="#e4342c" stroke="#e4342c" stroke-width="0.15" textLength="97.35" lengthAdjust="spacingAndGlyphs" xml:space="preserve">1616.04</text><text x="919.00" y="90" font-size="26" fill="#363a45" stroke="#363a45" stroke-width="0.15" textLength="24.70" lengthAdjust="spacingAndGlyphs" xml:space="preserve">C:</text><text x="958.00" y="90" font-size="26" fill="#e4342c" stroke="#e4342c" stroke-width="0.15" textLength="96.95" lengthAdjust="spacingAndGlyphs" xml:space="preserve">1616.57</text><text x="1066.70" y="90" font-size="26" fill="#363a45" stroke="#363a45" stroke-width="0.15" textLength="36.31" lengthAdjust="spacingAndGlyphs" xml:space="preserve">OI:</text><text x="1117.60" y="90" font-size="26" fill="#5d6470" stroke="#5d6470" stroke-width="0.15" textLength="37.36" lengthAdjust="spacingAndGlyphs" xml:space="preserve">n/a</text><text x="1177.00" y="90" font-size="26" fill="#e4342c" stroke="#e4342c" stroke-width="0.15" textLength="62.41" lengthAdjust="spacingAndGlyphs" xml:space="preserve">-0.05</text><text x="1263.00" y="90" font-size="26" fill="#e4342c" stroke="#e4342c" stroke-width="0.15" textLength="98.05" lengthAdjust="spacingAndGlyphs" xml:space="preserve">(0.00%)</text></svg>
</body></html>
